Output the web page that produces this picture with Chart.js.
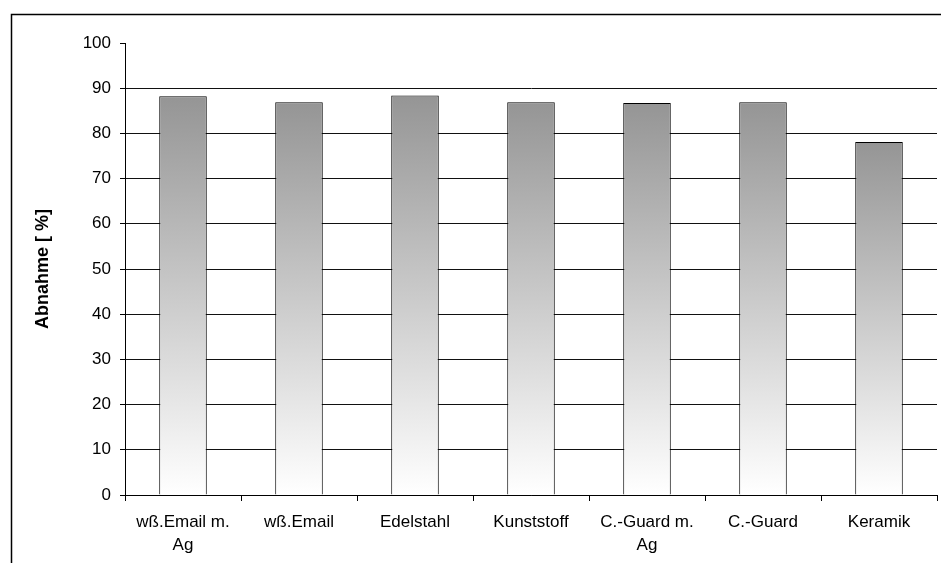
<!DOCTYPE html>
<html>
<head>
<meta charset="utf-8">
<script src="https://cdn.jsdelivr.net/npm/chart.js@4/dist/chart.umd.min.js"></script>
<style>
  body { margin: 0; background: #fff; }
  #wrap { width: 941px; height: 563px; }
</style>
</head>
<body>
<div id="wrap"><canvas id="grafico" width="941" height="563"></canvas></div>
<script>
// Datos del gráfico
const materiales = [
  ['wß.Email m.', 'Ag'],
  'wß.Email',
  'Edelstahl',
  'Kunststoff',
  ['C.-Guard m.', 'Ag'],
  'C.-Guard',
  'Keramik'
];
const abnahme = [88.2, 86.9, 88.4, 86.9, 86.7, 86.9, 78.1];
const yTicks = [0, 10, 20, 30, 40, 50, 60, 70, 80, 90, 100];

const FONT = 'Arial, "Liberation Sans", sans-serif';

// Marco exterior del gráfico
const marco = {
  id: 'marco',
  beforeDraw(chart) {
    const ctx = chart.ctx;
    ctx.save();
    ctx.fillStyle = '#fff';
    ctx.fillRect(0, 0, chart.width, chart.height);
    ctx.strokeStyle = '#000';
    ctx.lineWidth = 1.5;
    ctx.strokeRect(11.5, 14.5, 960, 600);
    ctx.restore();
  }
};

// Degradado por barra: gris arriba, blanco abajo
function degradado(c) {
  const chart = c.chart;
  if (!chart.chartArea || c.raw === undefined) return '#969696';
  const y = chart.scales.y;
  const top = y.getPixelForValue(c.raw);
  const bottom = y.getPixelForValue(0);
  const g = chart.ctx.createLinearGradient(0, top, 0, bottom);
  g.addColorStop(0, '#959595');
  g.addColorStop(1, '#ffffff');
  return g;
}

const ctx = document.getElementById('grafico').getContext('2d');

new Chart(ctx, {
  type: 'bar',
  data: {
    labels: materiales,
    datasets: [{
      label: 'Abnahme',
      data: abnahme,
      backgroundColor: degradado,
      borderColor: '#000',
      borderWidth: 1,
      borderSkipped: 'start',
      categoryPercentage: 0.41,
      barPercentage: 1
    }]
  },
  options: {
    responsive: false,
    devicePixelRatio: 1,
    animation: false,
    layout: { padding: { left: 0, top: 43, right: 4, bottom: 0 } },
    plugins: {
      legend: { display: false },
      tooltip: { enabled: false }
    },
    scales: {
      x: {
        grid: {
          offset: true,
          drawOnChartArea: false,
          drawTicks: true,
          tickLength: 6,
          tickColor: '#000'
        },
        border: { color: '#000', width: 1 },
        ticks: {
          color: '#000',
          font: { family: FONT, size: 17, lineHeight: 1.4 },
          padding: 9,
          maxRotation: 0,
          autoSkip: false
        },
        afterFit(scale) { scale.height = 68; }
      },
      y: {
        min: 0,
        max: 100,
        afterBuildTicks(scale) { scale.ticks = yTicks.map(v => ({ value: v })); },
        grid: {
          color: c => (c.tick && c.tick.value === 100) ? 'rgba(0,0,0,0)' : '#111',
          tickColor: '#000',
          tickLength: 5,
          lineWidth: 1
        },
        border: { color: '#000', width: 1 },
        ticks: {
          color: '#000',
          font: { family: FONT, size: 17 },
          padding: 9
        },
        title: {
          display: true,
          text: 'Abnahme [ %]',
          color: '#000',
          font: { family: FONT, size: 18, weight: 'bold' },
          padding: { top: 32, bottom: 0 }
        },
        afterFit(scale) { scale.width = 125; }
      }
    }
  },
  plugins: [marco]
});
</script>
</body>
</html>
